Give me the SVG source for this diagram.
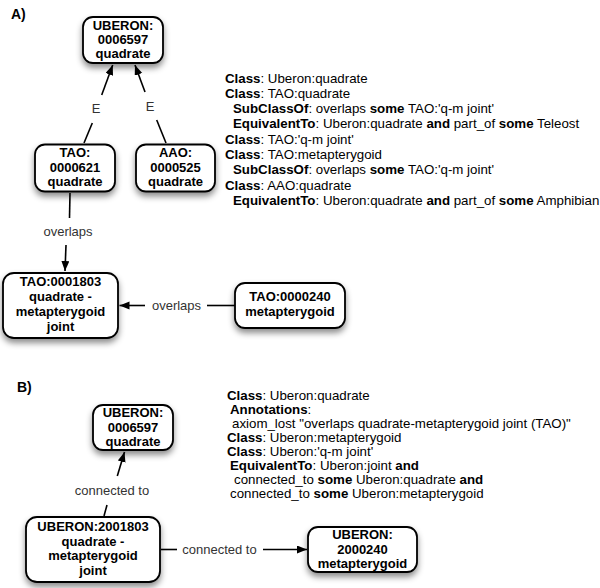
<svg xmlns="http://www.w3.org/2000/svg" width="600" height="588" viewBox="0 0 600 588">
<style>
.box{fill:#fff;stroke:#000;stroke-width:1.8;filter:url(#sh)}
.nt{font-family:"Liberation Sans",Arial,sans-serif;font-size:13px;font-weight:bold;text-anchor:middle;fill:#000}
.lbl{font-family:"Liberation Sans",Arial,sans-serif;font-size:13px;text-anchor:middle;fill:#333}
.edge{stroke:#000;stroke-width:1.6;fill:none}
.ax{font-family:"Liberation Sans",Arial,sans-serif;font-size:13.3px;fill:#000}
.ax tspan.b{font-weight:bold}
.title{font-family:"Liberation Sans",Arial,sans-serif;font-size:14px;font-weight:bold}
</style>
<defs>
<filter id="sh" x="-30%" y="-30%" width="160%" height="180%">
<feDropShadow dx="0" dy="4" stdDeviation="3" flood-color="#000" flood-opacity="0.45"/>
</filter>
<marker id="ar" markerUnits="userSpaceOnUse" markerWidth="11" markerHeight="9" refX="10" refY="4" orient="auto">
<path d="M0,0 L10,4 L0,8 z" fill="#000"/>
</marker>
</defs>
<rect width="600" height="588" fill="#fff"/>

<text class="title" x="11" y="19">A)</text>
<text class="title" x="17" y="392">B)</text>

<g id="connectors">
<line class="edge" x1="84" y1="143" x2="92.3" y2="123"/>
<line class="edge" x1="101.7" y1="95" x2="112.7" y2="65" marker-end="url(#ar)"/>
<text class="lbl" x="96" y="113">E</text>
<line class="edge" x1="166" y1="143" x2="156.7" y2="120"/>
<line class="edge" x1="145" y1="92" x2="135" y2="65" marker-end="url(#ar)"/>
<text class="lbl" x="150" y="111">E</text>
<line class="edge" x1="70" y1="193" x2="69.5" y2="218"/>
<line class="edge" x1="66" y1="245" x2="65" y2="271" marker-end="url(#ar)"/>
<text class="lbl" x="68" y="236">overlaps</text>
<line class="edge" x1="235" y1="305.5" x2="207" y2="305.5"/>
<line class="edge" x1="145" y1="305.5" x2="119.5" y2="305.5" marker-end="url(#ar)"/>
<text class="lbl" x="176.5" y="310">overlaps</text>
<line class="edge" x1="104" y1="516" x2="107" y2="505"/>
<line class="edge" x1="117.3" y1="476" x2="124.5" y2="452" marker-end="url(#ar)"/>
<text class="lbl" x="112" y="494.5">connected to</text>
<line class="edge" x1="161" y1="549.5" x2="177" y2="549.5"/>
<line class="edge" x1="263" y1="549.5" x2="307" y2="549.5" marker-end="url(#ar)"/>
<text class="lbl" x="219.5" y="554">connected to</text>
</g>

<g id="a_uberon_0006597">
<rect class="box" x="83" y="17" width="80" height="46" rx="10"/>
<text class="nt" x="123" y="30"><tspan x="123">UBERON:</tspan><tspan x="123" y="44.2">0006597</tspan><tspan x="123" y="58.4">quadrate</tspan></text>
</g>
<g id="a_tao_0000621">
<rect class="box" x="35" y="144.5" width="80" height="47" rx="10"/>
<text class="nt" x="75" y="157"><tspan x="75">TAO:</tspan><tspan x="75" y="171.5">0000621</tspan><tspan x="75" y="186">quadrate</tspan></text>
</g>
<g id="a_aao_0000525">
<rect class="box" x="136" y="144.5" width="79" height="47" rx="10"/>
<text class="nt" x="175.5" y="157"><tspan x="175.5">AAO:</tspan><tspan x="175.5" y="171.5">0000525</tspan><tspan x="175.5" y="186">quadrate</tspan></text>
</g>
<g id="a_tao_0001803">
<rect class="box" x="3" y="273" width="115" height="65" rx="11"/>
<text class="nt" x="60.5" y="285.5"><tspan x="60.5">TAO:0001803</tspan><tspan x="60.5" y="300.5">quadrate -</tspan><tspan x="60.5" y="315.5">metapterygoid</tspan><tspan x="60.5" y="330.5">joint</tspan></text>
</g>
<g id="a_tao_0000240">
<rect class="box" x="235" y="283" width="110" height="45" rx="10"/>
<text class="nt" x="290" y="300.5"><tspan x="290">TAO:0000240</tspan><tspan x="290" y="316">metapterygoid</tspan></text>
</g>

<g id="b_uberon_0006597">
<rect class="box" x="93" y="405" width="80" height="45" rx="10"/>
<text class="nt" x="133" y="417"><tspan x="133">UBERON:</tspan><tspan x="133" y="431.5">0006597</tspan><tspan x="133" y="446">quadrate</tspan></text>
</g>
<g id="b_uberon_2001803">
<rect class="box" x="26" y="517" width="134" height="65" rx="11"/>
<text class="nt" x="93" y="531"><tspan x="93">UBERON:2001803</tspan><tspan x="93" y="545.5">quadrate -</tspan><tspan x="93" y="560">metapterygoid</tspan><tspan x="93" y="574.5">joint</tspan></text>
</g>
<g id="b_uberon_2000240">
<rect class="box" x="308" y="527" width="109" height="45" rx="10"/>
<text class="nt" x="362.5" y="538.5"><tspan x="362.5">UBERON:</tspan><tspan x="362.5" y="553.5">2000240</tspan><tspan x="362.5" y="568">metapterygoid</tspan></text>
</g>

<g id="axioms_a">
<text class="ax" x="225" y="82.5"><tspan class="b">Class</tspan>: Uberon:quadrate</text>
<text class="ax" x="225" y="97.8"><tspan class="b">Class</tspan>: TAO:quadrate</text>
<text class="ax" x="233" y="113.1"><tspan class="b">SubClassOf</tspan>: overlaps <tspan class="b">some</tspan> TAO:'q-m joint'</text>
<text class="ax" x="233" y="128.4"><tspan class="b">EquivalentTo</tspan>: Uberon:quadrate <tspan class="b">and</tspan> part_of <tspan class="b">some</tspan> Teleost</text>
<text class="ax" x="225" y="143.7"><tspan class="b">Class</tspan>: TAO:'q-m joint'</text>
<text class="ax" x="225" y="159"><tspan class="b">Class</tspan>: TAO:metapterygoid</text>
<text class="ax" x="233" y="174.3"><tspan class="b">SubClassOf</tspan>: overlaps <tspan class="b">some</tspan> TAO:'q-m joint'</text>
<text class="ax" x="225" y="189.6"><tspan class="b">Class</tspan>: AAO:quadrate</text>
<text class="ax" x="233" y="204.9"><tspan class="b">EquivalentTo</tspan>: Uberon:quadrate <tspan class="b">and</tspan> part_of <tspan class="b">some</tspan> Amphibian</text>
</g>
<g id="axioms_b">
<text class="ax" x="227" y="399.7"><tspan class="b">Class</tspan>: Uberon:quadrate</text>
<text class="ax" x="230" y="413.7"><tspan class="b">Annotations</tspan>:</text>
<text class="ax" x="232" y="427.7">axiom_lost "overlaps quadrate-metapterygoid joint (TAO)"</text>
<text class="ax" x="227" y="441.7"><tspan class="b">Class</tspan>: Uberon:metapterygoid</text>
<text class="ax" x="227" y="455.7"><tspan class="b">Class</tspan>: Uberon:'q-m joint'</text>
<text class="ax" x="230" y="469.7"><tspan class="b">EquivalentTo</tspan>: Uberon:joint <tspan class="b">and</tspan></text>
<text class="ax" x="234" y="483.7">connected_to <tspan class="b">some</tspan> Uberon:quadrate <tspan class="b">and</tspan></text>
<text class="ax" x="230" y="497.7">connected_to <tspan class="b">some</tspan> Uberon:metapterygoid</text>
</g>
</svg>
